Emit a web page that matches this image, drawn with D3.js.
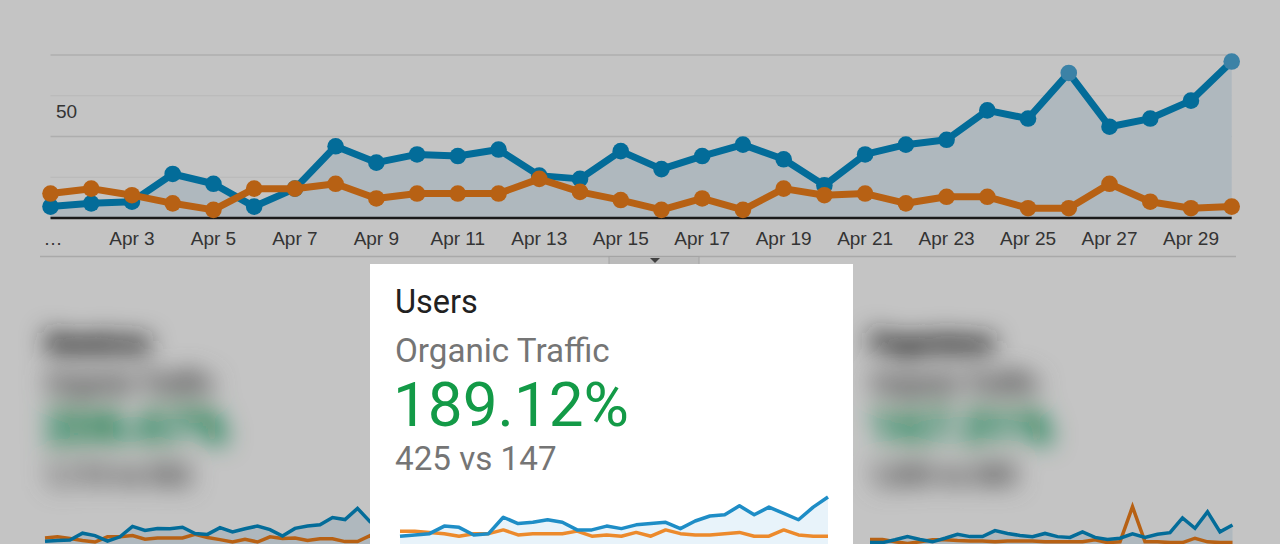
<!DOCTYPE html>
<html><head><meta charset="utf-8">
<script src="https://cdn.jsdelivr.net/npm/d3@7"></script>
<style>html,body{margin:0;padding:0;background:#fff;overflow:hidden}</style>
</head><body><svg id="c" width="1280" height="544"></svg>
<script>
// ---------- data ----------
const dates = ["Apr 1","Apr 2","Apr 3","Apr 4","Apr 5","Apr 6","Apr 7","Apr 8","Apr 9","Apr 10",
  "Apr 11","Apr 12","Apr 13","Apr 14","Apr 15","Apr 16","Apr 17","Apr 18","Apr 19","Apr 20",
  "Apr 21","Apr 22","Apr 23","Apr 24","Apr 25","Apr 26","Apr 27","Apr 28","Apr 29","Apr 30"];
const tickDates = ["Apr 1","Apr 3","Apr 5","Apr 7","Apr 9","Apr 11","Apr 13","Apr 15","Apr 17","Apr 19","Apr 21","Apr 23","Apr 25","Apr 27","Apr 29"];
const tickLabels = ["…","Apr 3","Apr 5","Apr 7","Apr 9","Apr 11","Apr 13","Apr 15","Apr 17","Apr 19","Apr 21","Apr 23","Apr 25","Apr 27","Apr 29"];
const yLabelValues = [50];
const majorGrid = [50, 100];
const minorGrid = [25, 75];
const highlightDates = ["Apr 26", "Apr 30"];

// main chart (Sessions, Organic Traffic)
const sessionsCurrent  = [7,9,10,27,21,7,18,44,34,39,38,42,26,24,41,30,38,45,36,20,39,45,48,66,61,89,56,61,72,96];
const sessionsPrevious = [15,18,14,9,5,18,18,21,12,15,15,15,24,16,11,5,12,5,18,14,15,9,13,13,6,6,21,10,6,7];
// Users card sparkline
const usersCurrent  = [3,4,5,11,10,4,5,18,13,14,16,14,8,8,11,9,12,13,14,9,15,19,20,27,20,26,21,16,26,34];
const usersPrevious = [7,7,6,5,3,5,5,8,4,5,5,5,7,3,4,3,6,3,8,5,4,4,5,6,3,3,8,4,3,3];
// right panel sparkline
const pageviewsCurrent  = [6,6,13,21,14,8,17,27,21,21,36,29,24,21,29,21,19,33,19,14,17,28,19,27,31,68,42,83,33,50];
const pageviewsPrevious = [14,14,8,4,8,13,13,11,10,10,8,10,10,10,8,8,8,8,13,6,8,96,8,8,6,6,17,8,6,6];

const cardTexts = {title:"Users", segment:"Organic Traffic", change:"189.12%", compare:"425 vs 147"};
const leftTexts = {title:"Sessions", segment:"Organic Traffic", change:"206.67%", compare:"1,110 vs 362"};
const rightTexts = {title:"Pageviews", segment:"Organic Traffic", change:"167.31%", compare:"1,030 vs 385"};

// ---------- drawing ----------
const BLUE = "#058dc7", ORANGE = "#ef7f1a";
const svg = d3.select("#c");
const defs = svg.append("defs");
defs.append("filter").attr("id","blur").attr("filterUnits","userSpaceOnUse")
  .attr("x",0).attr("y",290).attr("width",1280).attr("height",230)
  .append("feGaussianBlur").attr("stdDeviation", 12);

svg.append("rect").attr("width",1280).attr("height",544).attr("fill","#fff");

const main = svg.append("g");
const x = d3.scalePoint().domain(dates).range([50.5, 1231.7]);
const y = d3.scaleLinear().domain([0,100]).range([218, 55]);

// gridlines
main.selectAll(".minor").data(minorGrid).join("line")
  .attr("x1", x.range()[0]).attr("x2", x.range()[1])
  .attr("y1", d=>y(d)).attr("y2", d=>y(d))
  .attr("stroke","#f0f0f0").attr("stroke-width",1.2);
main.selectAll(".major").data(majorGrid).join("line")
  .attr("x1", x.range()[0]).attr("x2", x.range()[1])
  .attr("y1", d=>y(d)).attr("y2", d=>y(d))
  .attr("stroke","#e3e3e3").attr("stroke-width",1.5);

// area under current
const area = d3.area().x((d,i)=>x(dates[i])).y0(y(0)).y1(d=>y(d));
main.append("path").datum(sessionsCurrent).attr("d", area).attr("fill","#e4f0f8");

// y label
main.selectAll(".ylab").data(yLabelValues).join("text")
  .attr("x", 56).attr("y", d=>y(d)-19)
  .attr("font-family","Liberation Sans, Arial, sans-serif").attr("font-size",19).attr("fill","#444")
  .text(d=>d);

// baseline axis
main.append("line").attr("x1", x.range()[0]).attr("x2", x.range()[1])
  .attr("y1", y(0)).attr("y2", y(0)).attr("stroke","#222").attr("stroke-width",2.5);

// x labels
main.selectAll(".xlab").data(tickDates).join("text")
  .attr("x", (d,i)=> i===0 ? x(d)-7 : x(d))
  .attr("y", 245)
  .attr("text-anchor", (d,i)=> i===0 ? "start" : "middle")
  .attr("font-family","Liberation Sans, Arial, sans-serif").attr("font-size",19).attr("fill","#444")
  .text((d,i)=>tickLabels[i]);

// lines + points
const line = d3.line().x((d,i)=>x(dates[i])).y(d=>y(d));
function series(data, color) {
  main.append("path").datum(data).attr("d", line).attr("fill","none")
    .attr("stroke", color).attr("stroke-width", 7).attr("stroke-linejoin","round");
  main.selectAll(null).data(data).join("circle")
    .attr("cx",(d,i)=>x(dates[i])).attr("cy",d=>y(d)).attr("r",8.3)
    .attr("fill",(d,i)=> (color===BLUE && highlightDates.includes(dates[i])) ? "#4fa9d9" : color);
}
series(sessionsCurrent, BLUE);
series(sessionsPrevious, ORANGE);

// separator & tab
main.append("line").attr("x1",40).attr("x2",1236).attr("y1",256.5).attr("y2",256.5)
  .attr("stroke","#dcdcdc").attr("stroke-width",1.5);
main.append("rect").attr("x",609).attr("y",256.5).attr("width",90).attr("height",10)
  .attr("fill","#f2f2f2").attr("stroke","#d6d6d6");
main.append("path").attr("d","M650,258 L660,258 L655,263 Z").attr("fill","#555");

// side panels
function panel(g, x0, texts, cur, prev, baseY, xStart, step, maxV, topY) {
  const tg = g.append("g").attr("filter","url(#blur)").attr("font-family","Roboto, sans-serif");
  tg.append("text").attr("x",x0).attr("y",352).attr("font-size",26).attr("fill","#212121")
    .attr("stroke","#212121").attr("stroke-width",3).text(texts.title);
  tg.append("text").attr("x",x0).attr("y",392).attr("font-size",26).attr("fill","#757575")
    .attr("stroke","#757575").attr("stroke-width",3).text(texts.segment);
  tg.append("text").attr("x",x0).attr("y",443).attr("font-size",48).attr("fill","#0f9d58")
    .attr("stroke","#0f9d58").attr("stroke-width",3).text(texts.change);
  tg.append("text").attr("x",x0).attr("y",484).attr("font-size",26).attr("fill","#757575")
    .attr("stroke","#757575").attr("stroke-width",3).text(texts.compare);
  const sx = d3.scalePoint().domain(dates).range([xStart, xStart + step*(dates.length-1)]);
  const sy = d3.scaleLinear().domain([0, maxV]).range([baseY, topY]);
  g.append("path").datum(cur).attr("fill","#e4f0f8")
    .attr("d", d3.area().x((d,i)=>sx(dates[i])).y0(550).y1(d=>sy(d)));
  g.append("path").datum(prev).attr("fill","none").attr("stroke",ORANGE).attr("stroke-width",3.5)
    .attr("d", d3.line().x((d,i)=>sx(dates[i])).y(d=>sy(d)));
  g.append("path").datum(cur).attr("fill","none").attr("stroke",BLUE).attr("stroke-width",3.5)
    .attr("d", d3.line().x((d,i)=>sx(dates[i])).y(d=>sy(d)));
}
panel(svg.append("g"), 45, leftTexts, sessionsCurrent, sessionsPrevious, 544, 45, 12.5, 96, 505.6);
panel(svg.append("g"), 870, rightTexts, pageviewsCurrent, pageviewsPrevious, 545, 870, 12.5, 96, 506.7);

// dim overlay
svg.append("rect").attr("width",1280).attr("height",544).attr("fill","rgba(0,0,0,0.232)");

// highlighted card
const card = svg.append("g");
card.append("rect").attr("x",370).attr("y",264).attr("width",483).attr("height",290).attr("fill","#fff");
const ct = card.append("g").attr("font-family","Roboto, sans-serif");
ct.append("text").attr("x",395).attr("y",313).attr("font-size",32.5).attr("fill","#212121").text(cardTexts.title);
ct.append("text").attr("x",395).attr("y",362).attr("font-size",33.2).attr("fill","#757575").text(cardTexts.segment);
ct.append("text").attr("x",393).attr("y",426).attr("font-size",62).attr("fill","#139a47").text(cardTexts.change);
ct.append("text").attr("x",395).attr("y",470).attr("font-size",33.2).attr("fill","#757575").text(cardTexts.compare);

const cx = d3.scalePoint().domain(dates).range([400, 828]);
const cy = d3.scaleLinear().domain([0, 34]).range([540, 497]);
card.append("path").datum(usersCurrent).attr("fill","#e8f3fa")
  .attr("d", d3.area().x((d,i)=>cx(dates[i])).y0(550).y1(d=>cy(d)));
card.append("path").datum(usersPrevious).attr("fill","none").attr("stroke","#ec8a2c").attr("stroke-width",3.5)
  .attr("stroke-linejoin","round")
  .attr("d", d3.line().x((d,i)=>cx(dates[i])).y(d=>cy(d)));
card.append("path").datum(usersCurrent).attr("fill","none").attr("stroke","#1e8dc6").attr("stroke-width",3.5)
  .attr("stroke-linejoin","round")
  .attr("d", d3.line().x((d,i)=>cx(dates[i])).y(d=>cy(d)));
</script>
</body></html>
